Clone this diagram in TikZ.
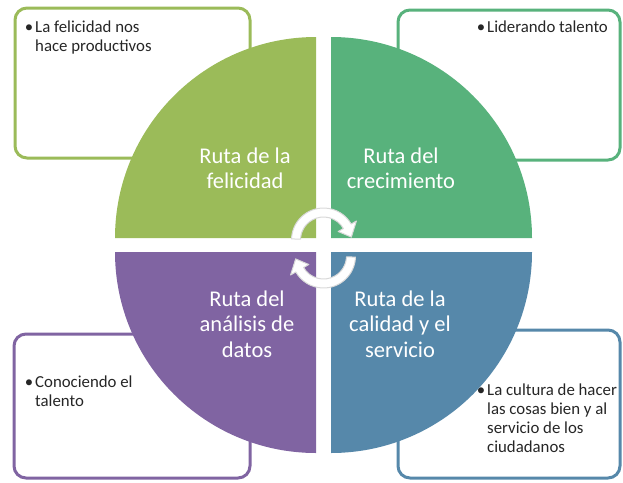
\documentclass[tikz,border=0pt]{standalone}
\usepackage{fontspec}
\setmainfont{Carlito}
\definecolor{felicidad}{RGB}{155,187,89}
\definecolor{crecimiento}{RGB}{88,178,124}
\definecolor{analisis}{RGB}{128,100,162}
\definecolor{calidad}{RGB}{86,136,170}

\begin{document}
\begin{tikzpicture}[x=1pt,y=-1pt,
    caja/.style ={draw=#1, line width=3pt, fill=white, rounded corners=12pt},
    nota/.style ={text=black!85, align=left, anchor=base west, inner sep=0pt,
                  font=\fontsize{16.8}{19}\selectfont},
    ruta/.style ={text=white, align=center, anchor=base, inner sep=0pt,
                  font=\fontsize{22.5}{25.5}\selectfont},
    giro/.style ={fill=white, draw=black!15, line width=1pt, line join=round}]
   \useasboundingbox (0,0) rectangle (623,482);

   % cajas de texto
   \draw[caja=felicidad]   (15,8)    rectangle (250,158);
   \draw[caja=crecimiento] (398,10)  rectangle (620,160);
   \draw[caja=analisis]    (14,334)  rectangle (250,478);
   \draw[caja=calidad]     (398,330) rectangle (620,478);

   \node[nota] (notaA) at (35,51.5) {\llap{\textbullet\hspace{2pt}}La felicidad nos\\hace productivos};
   \node[nota] (notaB) at (487,32)  {\llap{\textbullet\hspace{2pt}}Liderando talento};
   \node[nota] (notaC) at (35,406)  {\llap{\textbullet\hspace{2pt}}Conociendo el\\talento};
   \node[nota] (notaD) at (487,452) {\llap{\textbullet\hspace{2pt}}La cultura de hacer\\las cosas bien y al\\servicio de los\\ciudadanos};

   % cuadrantes
   \fill[felicidad]   (316,238) -- (115,238) arc[start angle=-180, end angle=-90, radius=201] -- cycle;
   \fill[crecimiento] (331,238) -- (331,37)  arc[start angle=-90,  end angle=0,   radius=201] -- cycle;
   \fill[analisis]    (316,252) -- (316,453) arc[start angle=90,   end angle=180, radius=201] -- cycle;
   \fill[calidad]     (331,252) -- (532,252) arc[start angle=0,    end angle=90,  radius=201] -- cycle;

   \node[ruta] (rutaA) at (245,188.5) {Ruta de la\\felicidad};
   \node[ruta] (rutaB) at (401,188.5) {Ruta del\\crecimiento};
   \node[ruta] (rutaC) at (247,357)   {Ruta del\\análisis de\\datos};
   \node[ruta] (rutaD) at (400,357)   {Ruta de la\\calidad y el\\servicio};

   % flechas circulares
   \foreach \r/\y in {0/240,180/256}
   \draw[giro,shift={(323.5,\y)},rotate=\r]
       (-178:32) arc[start angle=-178, end angle=-30, radius=32]
       -- (-30:38) -- (-6:28) -- (-30:17) -- (-30:23)
       arc[start angle=-30, end angle=-178, radius=23] -- cycle;
\end{tikzpicture}
\end{document}
